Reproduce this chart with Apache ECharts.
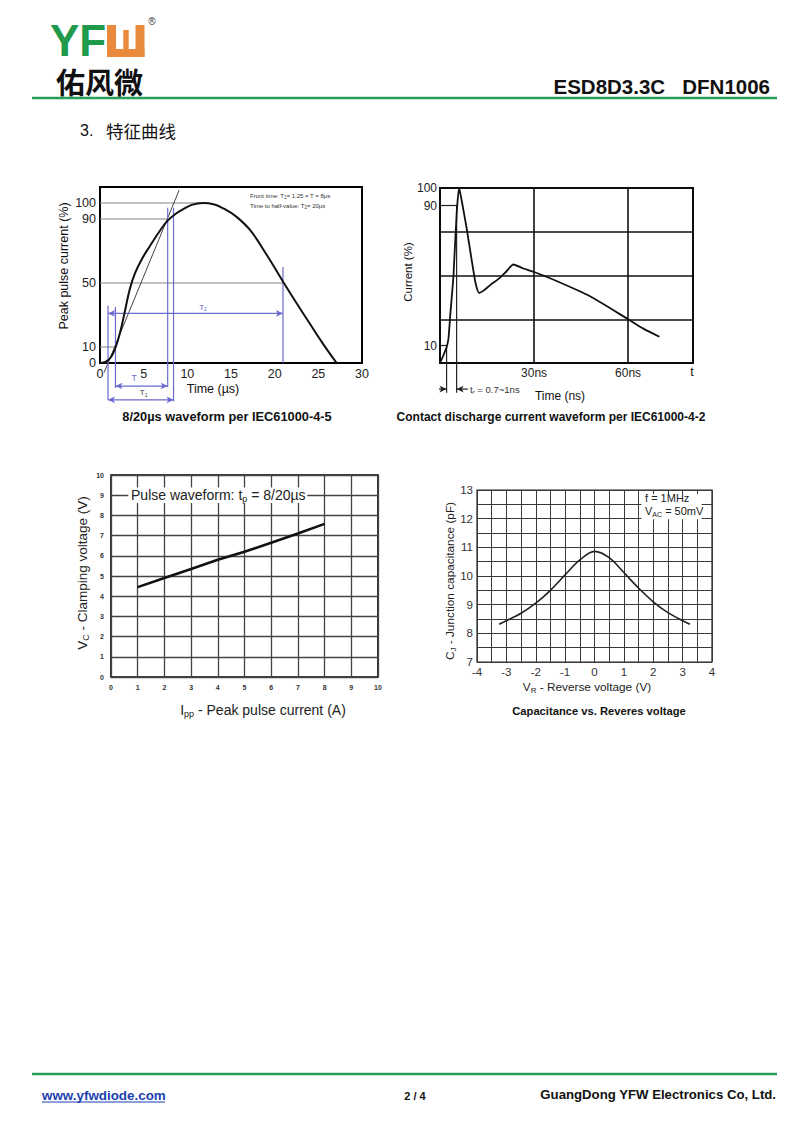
<!DOCTYPE html>
<html><head><meta charset="utf-8">
<script src="https://cdn.jsdelivr.net/npm/echarts@6/dist/echarts.min.js"></script>
<style>html,body{margin:0;padding:0;background:#fff}#c{width:800px;height:1138px}</style>
</head><body><div id="c"></div>
<script>
// ---------- DATA ----------
// Chart 1: 8/20us waveform
const c1Time    = [0, 0.5, 1, 1.4, 1.8, 2.3, 2.8, 3.4, 4.0, 4.8, 5.7, 6.9, 7.75, 8.6, 9.5, 10.5, 11.8, 13, 14.1, 15.6, 17.2, 19.1, 21, 22.5, 24, 25.5, 27.1];
const c1Current = [0, 0.5, 2, 5, 10, 19, 31, 46, 56, 65, 73, 83, 89, 93, 96, 98.8, 100, 99.2, 96.7, 91.5, 83, 67.5, 50.5, 37.5, 24.8, 12.3, 0];
const c1XTicks = [0, 5, 10, 15, 20, 25, 30];
const c1YTicks = [0, 10, 50, 90, 100];
// Chart 2: contact discharge waveform
const c2Time    = [0, 1, 2.1, 2.7, 3.3, 4.3, 5.3, 6.1, 7, 8.5, 10, 11.3, 12.5, 14, 16, 19, 21, 23.4, 26.6, 30, 37, 48, 60, 65, 70];
const c2Current = [0, 4, 9, 14, 28, 50, 85, 100, 92, 77, 60, 46, 40, 41.5, 44.5, 48.5, 52, 56.3, 54, 52, 47, 38, 25, 19.5, 15];
const c2XTicks = [30, 60];
const c2YTicks = [10, 90, 100];
// Chart 3: clamping voltage vs peak pulse current
const c3Ipp = [1, 2, 3, 4, 5, 6, 7, 8];
const c3Vc  = [4.45, 4.9, 5.35, 5.8, 6.2, 6.65, 7.1, 7.58];
// Chart 4: capacitance vs reverse voltage
const c4Vr = [-3.25, -3, -2.5, -2, -1.5, -1, -0.5, 0, 0.5, 1, 1.5, 2, 2.5, 3, 3.25];
const c4Cj = [8.32, 8.44, 8.7, 9.05, 9.5, 10.04, 10.56, 10.86, 10.64, 10.12, 9.58, 9.1, 8.72, 8.44, 8.32];

// ---------- helpers ----------
const FONT = "'Liberation Sans', Arial, Helvetica, sans-serif";
const zip = (a, b) => a.map((v, i) => [v, b[i]]);
const mctx = document.createElement('canvas').getContext('2d');
function tw(t, font) { mctx.font = font; return mctx.measureText(t).width; }
function rich(parts, x, y, o) {
  o = o || {};
  const fonts = parts.map(p => `${p.w || o.w || 'normal'} ${p.s || o.s}px ${FONT}`);
  const ws = parts.map((p, i) => tw(p.t, fonts[i]));
  const tot = ws.reduce((a, b) => a + b, 0);
  let cx = o.align === 'left' ? 0 : (o.align === 'right' ? -tot : -tot / 2);
  const ch = [];
  parts.forEach((p, i) => {
    ch.push({ type: 'text', x: cx, y: p.dy || 0, silent: true, z: o.z || 0,
      style: { text: p.t, font: fonts[i], fill: o.color || '#111', textAlign: 'left', textVerticalAlign: 'middle' } });
    cx += ws[i];
  });
  return { type: 'group', x: x, y: y, rotation: o.rot || 0, silent: true, z: o.z || 0, children: ch };
}
function txt(t, x, y, font, o) {
  o = o || {};
  return { type: 'text', x: x, y: y, silent: true, rotation: o.rot || 0,
    style: { text: t, font: font + ' ' + (o.fam || FONT), fill: o.color || '#111', textAlign: o.align || 'center', textVerticalAlign: 'middle' } };
}
function seg(xi, yi, pts, color, width, extra) {
  return Object.assign({ type: 'line', xAxisIndex: xi, yAxisIndex: yi, data: pts, showSymbol: false, symbol: 'none',
    clip: false, silent: true, animation: false, lineStyle: { color: color, width: width }, z: 3 }, extra || {});
}
function arrow(xi, yi, a, b, color, headA, headB) {
  // headA/headB: rotation for arrowheads (arrow points up by default; 90 = left, -90 = right)
  const d = [
    { value: a, symbol: headA === null ? 'none' : 'arrow', symbolRotate: headA || 0, symbolSize: [5, 7] },
    { value: b, symbol: headB === null ? 'none' : 'arrow', symbolRotate: headB || 0, symbolSize: [5, 7] }
  ];
  return { type: 'line', xAxisIndex: xi, yAxisIndex: yi, data: d, showSymbol: true, clip: false, silent: true,
    animation: false, lineStyle: { color: color, width: 1.2 }, itemStyle: { color: color }, z: 3 };
}
const hide = { axisLine: { show: false }, axisTick: { show: false } };
const BLUE = '#6a6acf', GRAY = '#808080';

const chart = echarts.init(document.getElementById('c'), null, { renderer: 'svg', width: 800, height: 1138 });

const option = {
  backgroundColor: '#fff',
  animation: false,
  grid: [
    { left: 100, top: 187, width: 262, height: 176, show: true, borderColor: '#000', borderWidth: 2, backgroundColor: 'transparent' },
    { left: 440, top: 188, width: 253, height: 175, show: true, borderColor: '#000', borderWidth: 2, backgroundColor: 'transparent' },
    { left: 111, top: 475, width: 267, height: 202, show: true, borderColor: '#000', borderWidth: 1.6, backgroundColor: 'transparent' },
    { left: 477, top: 490, width: 235, height: 172, show: true, borderColor: '#222', borderWidth: 1.2, backgroundColor: 'transparent' }
  ],
  xAxis: [
    Object.assign({ gridIndex: 0, type: 'value', min: 0, max: 30, interval: 5, splitLine: { show: false },
      axisLabel: { margin: 4, fontSize: 12.5, color: '#222', fontFamily: FONT, formatter: v => c1XTicks.includes(v) ? String(v) : '' } }, hide),
    Object.assign({ gridIndex: 1, type: 'value', min: 0, max: 80.7, interval: 30,
      splitLine: { show: true, lineStyle: { color: '#111', width: 1.6 } },
      axisLabel: { margin: 4, fontSize: 12, color: '#222', fontFamily: FONT, showMaxLabel: false, formatter: v => c2XTicks.includes(v) ? v + 'ns' : '' } }, hide),
    Object.assign({ gridIndex: 2, type: 'value', min: 0, max: 10, interval: 1,
      splitLine: { show: true, lineStyle: { color: '#444', width: 1.3 } },
      axisLabel: { margin: 7, fontSize: 7, fontWeight: 'bold', color: '#333', fontFamily: FONT } }, hide),
    Object.assign({ gridIndex: 3, type: 'value', min: -4, max: 4, interval: 0.5,
      splitLine: { show: true, lineStyle: { color: '#3a3a3a', width: 1 } },
      axisLabel: { margin: 4, fontSize: 11.5, color: '#333', fontFamily: FONT, formatter: v => Number.isInteger(v) ? String(v) : '' } }, hide)
  ],
  yAxis: [
    Object.assign({ gridIndex: 0, type: 'value', min: 0, max: 110, interval: 10, splitLine: { show: false },
      axisLabel: { margin: 4, fontSize: 12.5, color: '#222', fontFamily: FONT, formatter: v => c1YTicks.includes(v) ? String(v) : '' } }, hide),
    Object.assign({ gridIndex: 1, type: 'value', min: 0, max: 100, interval: 5, splitLine: { show: false },
      axisLabel: { margin: 3, fontSize: 12, color: '#222', fontFamily: FONT, formatter: v => c2YTicks.includes(v) ? String(v) : '' } }, hide),
    Object.assign({ gridIndex: 1, type: 'value', min: 0, max: 100, interval: 25, position: 'left',
      splitLine: { show: true, lineStyle: { color: '#111', width: 1.6 } }, axisLabel: { show: false } }, hide),
    Object.assign({ gridIndex: 2, type: 'value', min: 0, max: 10, interval: 1,
      splitLine: { show: true, lineStyle: { color: '#444', width: 1.3 } },
      axisLabel: { margin: 7, fontSize: 7, fontWeight: 'bold', color: '#333', fontFamily: FONT } }, hide),
    Object.assign({ gridIndex: 3, type: 'value', min: 7, max: 13, interval: 0.5,
      splitLine: { show: true, lineStyle: { color: '#3a3a3a', width: 1 } },
      axisLabel: { margin: 4, fontSize: 11.5, color: '#333', fontFamily: FONT, formatter: v => Number.isInteger(v) ? String(v) : '' } }, hide)
  ],
  series: [
    // chart 1 guides
    seg(0, 0, [[0, 100], [11.8, 100]], GRAY, 1),
    seg(0, 0, [[0, 90], [7.75, 90]], GRAY, 1),
    seg(0, 0, [[0, 50], [20.95, 50]], GRAY, 1),
    seg(0, 0, [[0, 10], [1.75, 10]], GRAY, 1),
    seg(0, 0, [[0.47, -6], [9.06, 108]], '#444', 1),
    seg(0, 0, [[0.92, 36], [0.92, -23]], BLUE, 1.2),
    seg(0, 0, [[1.77, 35], [1.77, -15.6]], BLUE, 1.2),
    seg(0, 0, [[7.75, 97], [7.75, -15]], BLUE, 1.2),
    seg(0, 0, [[8.42, 97], [8.42, -24]], BLUE, 1.2),
    seg(0, 0, [[20.95, 60], [20.95, 0]], BLUE, 1.2),
    arrow(0, 0, [0.92, 31], [20.95, 31], BLUE, 90, -90),
    arrow(0, 0, [1.77, -14.4], [7.75, -14.4], BLUE, 90, -90),
    arrow(0, 0, [0.92, -23], [8.42, -23], BLUE, 90, -90),
    // chart 1 curve
    { type: 'line', xAxisIndex: 0, yAxisIndex: 0, data: zip(c1Time, c1Current), smooth: 0.4, showSymbol: false,
      lineStyle: { color: '#111', width: 2 }, z: 4, silent: true },
    // chart 2 guides
    seg(1, 1, [[0, 90], [5.4, 90]], '#222', 1.2),
    seg(1, 1, [[0, 10], [2.3, 10]], '#222', 1.2),
    seg(1, 1, [[2.1, 10], [2.1, -17]], '#222', 1.2),
    seg(1, 1, [[5.3, 90], [5.3, -17]], '#222', 1.2),
    arrow(1, 1, [-1.6, -14.9], [2.1, -14.9], '#222', null, -90),
    arrow(1, 1, [5.3, -14.9], [8.9, -14.9], '#222', 90, null),
    // chart 2 curve
    { type: 'line', xAxisIndex: 1, yAxisIndex: 1, data: zip(c2Time, c2Current), smooth: 0.2, showSymbol: false,
      lineStyle: { color: '#111', width: 1.8 }, z: 4, silent: true },
    // chart 3
    { type: 'line', xAxisIndex: 2, yAxisIndex: 3, data: zip(c3Ipp, c3Vc), showSymbol: false,
      lineStyle: { color: '#111', width: 2.6 }, z: 4, silent: true },
    // chart 4
    { type: 'line', xAxisIndex: 3, yAxisIndex: 4, data: zip(c4Vr, c4Cj), smooth: 0.35, showSymbol: false,
      lineStyle: { color: '#222', width: 1.6 }, z: 4, silent: true }
  ]
};
chart.setOption(option);

const P = (g, pt) => chart.convertToPixel({ gridIndex: g }, pt);
const GREEN = '#2a9d57', LOGOG = '#1f9a4b', ORANGE = '#e98a3c';
const g = [];
function whiteBox(gi, p1, p2) {
  const a = P(gi, p1), b = P(gi, p2);
  const x = Math.min(a[0], b[0]), y = Math.min(a[1], b[1]);
  return { type: 'rect', z: 20, silent: true,
    shape: { x: x, y: y, width: Math.abs(b[0] - a[0]), height: Math.abs(b[1] - a[1]) },
    style: { fill: '#ffffff', stroke: null } };
}
// header
g.push(txt('YF', 50, 40, 'bold 44px', { align: 'left', color: LOGOG }));
g.push({ type: 'rect', shape: { x: 107, y: 25, width: 9, height: 32 }, style: { fill: ORANGE } });
g.push({ type: 'rect', shape: { x: 135.5, y: 25, width: 9, height: 32 }, style: { fill: ORANGE } });
g.push({ type: 'rect', shape: { x: 107, y: 49, width: 37.5, height: 8 }, style: { fill: ORANGE } });
g.push({ type: 'rect', shape: { x: 123.3, y: 30, width: 5.4, height: 27 }, style: { fill: ORANGE } });
g.push(txt('®', 152, 21, '10px', { color: '#333' }));
g.push(txt('佑风微', 56, 81, 'bold 29px', { align: 'left', fam: "'Noto Sans CJK SC', sans-serif", color: '#111' }));
g.push(txt('ESD8D3.3C   DFN1006', 770, 86, 'bold 20.5px', { align: 'right', color: '#111' }));
g.push({ type: 'line', shape: { x1: 32, y1: 98, x2: 777, y2: 98 }, style: { stroke: GREEN, lineWidth: 2.5 } });
g.push(txt('3.', 80, 130, '16px', { align: 'left' }));
g.push(txt('特征曲线', 106, 130, '17.5px', { align: 'left', fam: "'Noto Sans CJK SC', sans-serif" }));
// chart 1 texts
g.push(txt('Time (µs)', 213, 389, '12.5px'));
g.push(txt('Peak pulse current (%)', 64, 266, '12.5px', { rot: Math.PI / 2 }));
g.push(txt('8/20µs waveform per IEC61000-4-5', 227, 416, 'bold 12.8px'));
g.push(rich([{ t: 'Front time: T' }, { t: '1', s: 4.5, dy: 1.5 }, { t: '= 1.25 × T = 8µs' }], 250, 196, { s: 6, align: 'left', color: '#333' }));
g.push(rich([{ t: 'Time to half-value: T' }, { t: '2', s: 4.5, dy: 1.5 }, { t: '= 20µs' }], 250, 206, { s: 6, align: 'left', color: '#333' }));
let p = P(0, [11.8, 31]);
g.push(rich([{ t: 'T' }, { t: '2', s: 5, dy: 2 }], p[0], p[1] - 6, { s: 8, color: BLUE }));
p = P(0, [3.9, -9.5]);
g.push(rich([{ t: 'T' }], p[0], p[1], { s: 8.5, color: BLUE }));
p = P(0, [5.0, -18.5]);
g.push(rich([{ t: 'T' }, { t: '1', s: 5, dy: 2 }], p[0], p[1], { s: 8, color: '#333' }));
// chart 2 texts
g.push(txt('Current (%)', 408, 272, '11.5px', { rot: Math.PI / 2 }));
g.push(txt('Time (ns)', 560, 396, '12px'));
g.push(txt('t', 692, 372, '12.5px'));
g.push(txt('Contact discharge current waveform per IEC61000-4-2', 551, 417, 'bold 12px'));
p = P(1, [9.6, -14.9]);
g.push(rich([{ t: 't' }, { t: 'r', s: 6, dy: 3 }, { t: ' = 0.7~1ns' }], p[0], p[1], { s: 9.5, align: 'left', color: '#333' }));
// chart 3 texts
g.push(whiteBox(2, [0.65, 9.38], [7.35, 8.62]));
p = P(2, [0.75, 9]);
g.push(rich([{ t: 'Pulse waveform: t' }, { t: 'p', s: 9, dy: 4 }, { t: ' = 8/20µs' }], p[0], p[1], { s: 14, align: 'left', color: '#222', z: 21 }));
g.push(rich([{ t: 'V' }, { t: 'C', s: 9, dy: 4 }, { t: ' - Clamping voltage (V)' }], 82, 573, { s: 13.5, rot: Math.PI / 2, color: '#222' }));
g.push(rich([{ t: 'I' }, { t: 'pp', s: 9, dy: 4 }, { t: ' - Peak pulse current (A)' }], 263, 710, { s: 14, color: '#222' }));
// chart 4 texts
g.push(whiteBox(3, [1.6, 12.86], [3.65, 11.98]));
p = P(3, [1.72, 12.72]);
g.push(rich([{ t: 'f = 1MHz' }], p[0], p[1], { s: 11, align: 'left', color: '#222', z: 21 }));
p = P(3, [1.72, 12.26]);
g.push(rich([{ t: 'V' }, { t: 'AC', s: 7, dy: 3 }, { t: ' = 50mV' }], p[0], p[1], { s: 11, align: 'left', color: '#222', z: 21 }));
g.push(rich([{ t: 'C' }, { t: 'J', s: 8, dy: 3 }, { t: ' - Junction capacitance (pF)' }], 450, 581, { s: 11.8, rot: Math.PI / 2, color: '#222' }));
g.push(rich([{ t: 'V' }, { t: 'R', s: 8, dy: 3 }, { t: ' - Reverse voltage (V)' }], 587, 687, { s: 11.8, color: '#222' }));
g.push(txt('Capacitance vs. Reveres voltage', 599, 711, 'bold 11.2px'));
// footer
g.push({ type: 'line', shape: { x1: 32, y1: 1074, x2: 777, y2: 1074 }, style: { stroke: GREEN, lineWidth: 2.5 } });
g.push(txt('www.yfwdiode.com', 42, 1095, 'bold 13.4px', { align: 'left', color: '#1a3fae' }));
g.push({ type: 'line', shape: { x1: 42, y1: 1102, x2: 165, y2: 1102 }, style: { stroke: '#1a3fae', lineWidth: 1 } });
g.push(txt('2 / 4', 415, 1096, 'bold 11px'));
g.push(txt('GuangDong YFW Electronics Co, Ltd.', 776, 1094, 'bold 13.2px', { align: 'right' }));

chart.setOption({ graphic: { elements: g } });
</script></body></html>
